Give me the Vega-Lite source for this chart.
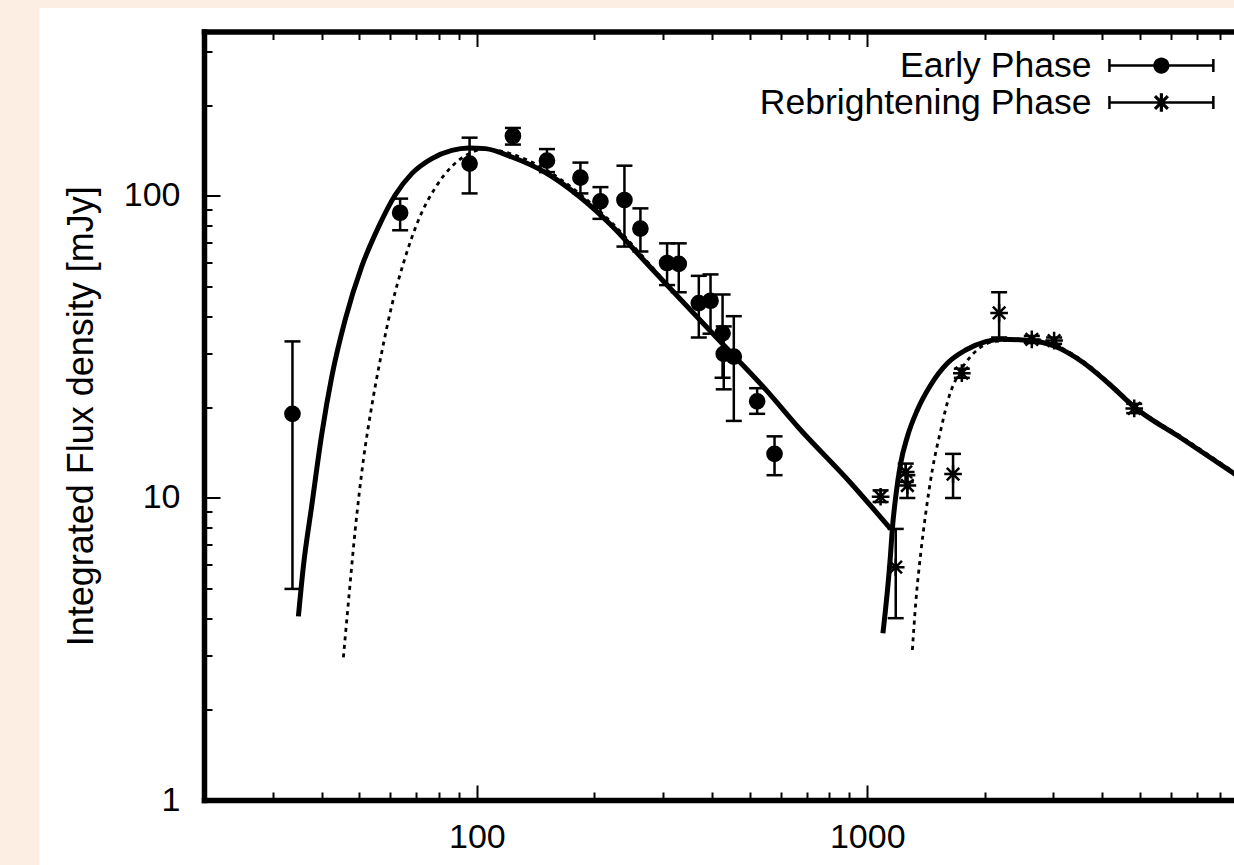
{
  "$schema": "https://vega.github.io/schema/vega-lite/v6.json",
  "width": 1030,
  "height": 768.5,
  "autosize": "none",
  "padding": {"left": 204, "top": 31.5, "right": 0, "bottom": 65},
  "background": "#fdeee4",
  "config": {
    "view": {"stroke": null},
    "font": "Liberation Sans",
    "axis": {
      "grid": false, "domainColor": "black", "tickColor": "black", "labelColor": "black", "titleColor": "black",
      "labelFont": "Liberation Sans", "titleFont": "Liberation Sans", "labelFontSize": 34, "titleFontSize": 36,
      "titleFontWeight": "normal", "domainWidth": 5.5, "domainCap": "square", "tickWidth": 2,
      "labelOverlap": false, "labelFlush": false, "labelBound": false
    }
  },
  "datasets": {
    "points": [
      {"phase": "Early Phase", "x": 33.7, "y": 19, "lo": 5, "hi": 33},
      {"phase": "Early Phase", "x": 63.6, "y": 88, "lo": 77, "hi": 98},
      {"phase": "Early Phase", "x": 95.8, "y": 128, "lo": 102, "hi": 156},
      {"phase": "Early Phase", "x": 123.7, "y": 158, "lo": 148, "hi": 168},
      {"phase": "Early Phase", "x": 151.2, "y": 131, "lo": 120, "hi": 143},
      {"phase": "Early Phase", "x": 184.2, "y": 115, "lo": 102, "hi": 129},
      {"phase": "Early Phase", "x": 207.3, "y": 96, "lo": 84, "hi": 107},
      {"phase": "Early Phase", "x": 238.8, "y": 97, "lo": 68, "hi": 126},
      {"phase": "Early Phase", "x": 262.4, "y": 78, "lo": 65.5, "hi": 91},
      {"phase": "Early Phase", "x": 307.1, "y": 60, "lo": 50.7, "hi": 69.7},
      {"phase": "Early Phase", "x": 329, "y": 59.6, "lo": 48, "hi": 69.7},
      {"phase": "Early Phase", "x": 370.3, "y": 44.2, "lo": 34, "hi": 54.4},
      {"phase": "Early Phase", "x": 396.8, "y": 45, "lo": 35, "hi": 55},
      {"phase": "Early Phase", "x": 426, "y": 35.1, "lo": 25, "hi": 47.2},
      {"phase": "Early Phase", "x": 429, "y": 30, "lo": 22.9, "hi": 37},
      {"phase": "Early Phase", "x": 455.2, "y": 29.4, "lo": 18, "hi": 40},
      {"phase": "Early Phase", "x": 522.4, "y": 20.9, "lo": 19, "hi": 23.1},
      {"phase": "Early Phase", "x": 578.8, "y": 14, "lo": 11.9, "hi": 16},
      {"phase": "Rebrightening Phase", "x": 1082, "y": 10.1, "lo": 9.7, "hi": 10.6},
      {"phase": "Rebrightening Phase", "x": 1183, "y": 5.9, "lo": 4.0, "hi": 7.9},
      {"phase": "Rebrightening Phase", "x": 1255, "y": 12.2, "lo": 11.3, "hi": 13.0},
      {"phase": "Rebrightening Phase", "x": 1267, "y": 11.0, "lo": 10.0, "hi": 11.9},
      {"phase": "Rebrightening Phase", "x": 1659, "y": 12.0, "lo": 10.0, "hi": 14.0},
      {"phase": "Rebrightening Phase", "x": 1747, "y": 25.9, "lo": 25.0, "hi": 26.8},
      {"phase": "Rebrightening Phase", "x": 2177, "y": 41, "lo": 34, "hi": 48},
      {"phase": "Rebrightening Phase", "x": 2640, "y": 33.5, "lo": 32.6, "hi": 34.4},
      {"phase": "Rebrightening Phase", "x": 3011, "y": 33.2, "lo": 32.4, "hi": 34.0},
      {"phase": "Rebrightening Phase", "x": 4830, "y": 19.8, "lo": 19.1, "hi": 20.5}
    ],
    "curves": [
      {"model": "A", "segment": "early", "x": 34.9, "y": 4.055},
      {"model": "A", "segment": "early", "x": 35.94, "y": 5.935},
      {"model": "A", "segment": "early", "x": 37.76, "y": 9.43},
      {"model": "A", "segment": "early", "x": 40.05, "y": 16.25},
      {"model": "A", "segment": "early", "x": 42.48, "y": 25.14},
      {"model": "A", "segment": "early", "x": 45.98, "y": 38.86},
      {"model": "A", "segment": "early", "x": 50.72, "y": 58.46},
      {"model": "A", "segment": "early", "x": 55.96, "y": 78.9},
      {"model": "A", "segment": "early", "x": 61.77, "y": 100.8},
      {"model": "A", "segment": "early", "x": 68.13, "y": 118.6},
      {"model": "A", "segment": "early", "x": 76.66, "y": 133.0},
      {"model": "A", "segment": "early", "x": 86.28, "y": 141.6},
      {"model": "A", "segment": "early", "x": 95.2, "y": 144.3},
      {"model": "A", "segment": "early", "x": 105.1, "y": 143.5},
      {"model": "A", "segment": "early", "x": 122.9, "y": 134.6},
      {"model": "A", "segment": "early", "x": 149.8, "y": 119.6},
      {"model": "A", "segment": "early", "x": 182.3, "y": 100.0},
      {"model": "A", "segment": "early", "x": 221.9, "y": 79.56},
      {"model": "A", "segment": "early", "x": 270.3, "y": 60.45},
      {"model": "A", "segment": "early", "x": 329.0, "y": 46.12},
      {"model": "A", "segment": "early", "x": 370.3, "y": 39.22},
      {"model": "A", "segment": "early", "x": 450.7, "y": 29.99},
      {"model": "A", "segment": "early", "x": 549, "y": 22.88},
      {"model": "A", "segment": "early", "x": 668.2, "y": 17.05},
      {"model": "A", "segment": "early", "x": 897.5, "y": 11.38},
      {"model": "A", "segment": "early", "x": 1148, "y": 7.9},
      {"model": "B", "segment": "early", "x": 45.51, "y": 2.964},
      {"model": "B", "segment": "early", "x": 46.88, "y": 4.525},
      {"model": "B", "segment": "early", "x": 48.77, "y": 7.79},
      {"model": "B", "segment": "early", "x": 51.23, "y": 13.43},
      {"model": "B", "segment": "early", "x": 53.81, "y": 20.2},
      {"model": "B", "segment": "early", "x": 57.07, "y": 30.4},
      {"model": "B", "segment": "early", "x": 60.54, "y": 43.35},
      {"model": "B", "segment": "early", "x": 64.88, "y": 60.04},
      {"model": "B", "segment": "early", "x": 70.88, "y": 83.3},
      {"model": "B", "segment": "early", "x": 78.22, "y": 106.4},
      {"model": "B", "segment": "early", "x": 86.28, "y": 125.3},
      {"model": "B", "segment": "early", "x": 93.4, "y": 136.0},
      {"model": "B", "segment": "early", "x": 105.1, "y": 143.0},
      {"model": "B", "segment": "early", "x": 122.9, "y": 137.7},
      {"model": "B", "segment": "early", "x": 149.8, "y": 122.4},
      {"model": "B", "segment": "early", "x": 182.3, "y": 102.3},
      {"model": "B", "segment": "early", "x": 221.9, "y": 81.4},
      {"model": "B", "segment": "early", "x": 270.3, "y": 61.6},
      {"model": "B", "segment": "early", "x": 329.0, "y": 46.12},
      {"model": "B", "segment": "early", "x": 370.3, "y": 39.22},
      {"model": "B", "segment": "early", "x": 450.7, "y": 29.99},
      {"model": "B", "segment": "early", "x": 549, "y": 22.88},
      {"model": "B", "segment": "early", "x": 668.2, "y": 17.05},
      {"model": "B", "segment": "early", "x": 897.5, "y": 11.38},
      {"model": "B", "segment": "early", "x": 1148, "y": 7.9},
      {"model": "A", "segment": "late", "x": 1097, "y": 3.565},
      {"model": "A", "segment": "late", "x": 1148, "y": 6.56},
      {"model": "A", "segment": "late", "x": 1159, "y": 7.83},
      {"model": "A", "segment": "late", "x": 1183, "y": 10.1},
      {"model": "A", "segment": "late", "x": 1218, "y": 13.03},
      {"model": "A", "segment": "late", "x": 1267, "y": 15.96},
      {"model": "A", "segment": "late", "x": 1344, "y": 19.56},
      {"model": "A", "segment": "late", "x": 1454, "y": 23.67},
      {"model": "A", "segment": "late", "x": 1604, "y": 27.93},
      {"model": "A", "segment": "late", "x": 1788, "y": 30.9},
      {"model": "A", "segment": "late", "x": 2012, "y": 32.93},
      {"model": "A", "segment": "late", "x": 2219, "y": 33.54},
      {"model": "A", "segment": "late", "x": 2598, "y": 33.22},
      {"model": "A", "segment": "late", "x": 3011, "y": 31.86},
      {"model": "A", "segment": "late", "x": 3558, "y": 28.2},
      {"model": "A", "segment": "late", "x": 4166, "y": 23.85},
      {"model": "A", "segment": "late", "x": 4830, "y": 20.01},
      {"model": "A", "segment": "late", "x": 6424, "y": 15.68},
      {"model": "A", "segment": "late", "x": 8978, "y": 11.73},
      {"model": "B", "segment": "late", "x": 1305, "y": 3.138},
      {"model": "B", "segment": "late", "x": 1331, "y": 4.48},
      {"model": "B", "segment": "late", "x": 1371, "y": 6.56},
      {"model": "B", "segment": "late", "x": 1412, "y": 8.9},
      {"model": "B", "segment": "late", "x": 1468, "y": 12.38},
      {"model": "B", "segment": "late", "x": 1543, "y": 16.8},
      {"model": "B", "segment": "late", "x": 1620, "y": 21.65},
      {"model": "B", "segment": "late", "x": 1719, "y": 25.87},
      {"model": "B", "segment": "late", "x": 1823, "y": 29.0},
      {"model": "B", "segment": "late", "x": 1934, "y": 31.3},
      {"model": "B", "segment": "late", "x": 2114, "y": 32.97},
      {"model": "B", "segment": "late", "x": 2598, "y": 33.5},
      {"model": "B", "segment": "late", "x": 3011, "y": 32.2},
      {"model": "B", "segment": "late", "x": 3558, "y": 28.5},
      {"model": "B", "segment": "late", "x": 4166, "y": 24.1},
      {"model": "B", "segment": "late", "x": 4830, "y": 20.2},
      {"model": "B", "segment": "late", "x": 6424, "y": 15.85},
      {"model": "B", "segment": "late", "x": 8978, "y": 11.85}
    ]
  },
  "resolve": {"axis": {"x": "independent", "y": "independent"}},
  "layer": [
    {
      "data": {"name": "curves"},
      "transform": [{"filter": "datum.model === 'A'"}],
      "mark": {"type": "line", "color": "black", "strokeWidth": 5, "interpolate": "monotone", "clip": true, "strokeJoin": "round"},
      "encoding": {
        "x": {"field": "x", "type": "quantitative", "scale": {"type": "log", "domain": [20, 8700], "nice": false},
          "axis": {
            "orient": "bottom", "title": null, "zindex": 2,
            "values": [20,30,40,50,60,70,80,90,100,200,300,400,500,600,700,800,900,1000,2000,3000,4000,5000,6000,7000,8000],
            "tickSize": {"condition": {"test": "datum.value == 100 || datum.value == 1000", "value": -15}, "value": -8},
            "labelExpr": "datum.value == 100 || datum.value == 1000 ? format(datum.value, 'd') : ''",
            "labelPadding": 35
          }},
        "y": {"field": "y", "type": "quantitative", "scale": {"type": "log", "domain": [1, 350.5], "nice": false},
          "axis": {
            "orient": "left", "zindex": 2,
            "values": [1,2,3,4,5,6,7,8,9,10,20,30,40,50,60,70,80,90,100,200,300],
            "tickSize": {"condition": {"test": "datum.value == 1 || datum.value == 10 || datum.value == 100", "value": -16}, "value": -8},
            "labelExpr": "datum.value == 1 || datum.value == 10 || datum.value == 100 ? format(datum.value, 'd') : ''",
            "labelPadding": 40,
            "title": "Integrated Flux density [mJy]",
            "titleAngle": 270, "titleX": -123, "titleY": 384.25, "titleAlign": "center", "titleBaseline": "middle"
          }},
        "detail": {"field": "segment"}
      }
    },
    {
      "data": {"name": "curves"},
      "transform": [{"filter": "datum.model === 'B'"}],
      "mark": {"type": "line", "color": "black", "strokeWidth": 2.8, "strokeDash": [4, 4.5], "interpolate": "monotone", "clip": true},
      "encoding": {
        "x": {"field": "x", "type": "quantitative", "scale": {"type": "log", "domain": [20, 8700], "nice": false}, "axis": null},
        "y": {"field": "y", "type": "quantitative", "scale": {"type": "log", "domain": [1, 350.5], "nice": false},
          "axis": {
            "orient": "right", "title": null, "labels": false, "domain": false, "zindex": 0,
            "values": [16.04], "tickSize": -1195, "tickWidth": 858, "tickColor": "white", "tickCap": "butt"
          }},
        "detail": {"field": "segment"}
      }
    },
    {
      "data": {"name": "points"},
      "mark": {"type": "rule", "color": "black", "strokeWidth": 2.5},
      "encoding": {
        "x": {"field": "x", "type": "quantitative", "scale": {"type": "log", "domain": [20, 8700], "nice": false},
          "axis": {
            "orient": "top", "title": null, "labels": false, "zindex": 2,
            "values": [20,30,40,50,60,70,80,90,100,200,300,400,500,600,700,800,900,1000,2000,3000,4000,5000,6000,7000,8000],
            "tickSize": {"condition": {"test": "datum.value == 100 || datum.value == 1000", "value": -15}, "value": -8}
          }},
        "y": {"field": "lo", "type": "quantitative", "scale": {"type": "log", "domain": [1, 350.5], "nice": false}, "axis": null},
        "y2": {"field": "hi"}
      }
    },
    {
      "data": {"name": "points"},
      "mark": {"type": "tick", "orient": "horizontal", "color": "black", "thickness": 2.5, "size": 16, "opacity": 1},
      "encoding": {
        "x": {"field": "x", "type": "quantitative", "scale": {"type": "log", "domain": [20, 8700], "nice": false}, "axis": null},
        "y": {"field": "lo", "type": "quantitative", "scale": {"type": "log", "domain": [1, 350.5], "nice": false}, "axis": null}
      }
    },
    {
      "data": {"name": "points"},
      "mark": {"type": "tick", "orient": "horizontal", "color": "black", "thickness": 2.5, "size": 16, "opacity": 1},
      "encoding": {
        "x": {"field": "x", "type": "quantitative", "scale": {"type": "log", "domain": [20, 8700], "nice": false}, "axis": null},
        "y": {"field": "hi", "type": "quantitative", "scale": {"type": "log", "domain": [1, 350.5], "nice": false}, "axis": null}
      }
    },
    {
      "data": {"name": "points"},
      "transform": [{"filter": "datum.phase === 'Early Phase'"}],
      "mark": {"type": "point", "shape": "circle", "filled": true, "color": "black", "stroke": "black", "strokeWidth": 2, "size": 216, "opacity": 1},
      "encoding": {
        "x": {"field": "x", "type": "quantitative", "scale": {"type": "log", "domain": [20, 8700], "nice": false}, "axis": null},
        "y": {"field": "y", "type": "quantitative", "scale": {"type": "log", "domain": [1, 350.5], "nice": false}, "axis": null}
      }
    },
    {
      "data": {"name": "points"},
      "transform": [{"filter": "datum.phase === 'Rebrightening Phase'"}],
      "mark": {"type": "point", "shape": "M-1.2,0H1.2M0,-1.2V1.2M-0.85,-0.85L0.85,0.85M-0.85,0.85L0.85,-0.85", "filled": false, "color": "black", "strokeWidth": 2.5, "size": 216, "opacity": 1},
      "encoding": {
        "x": {"field": "x", "type": "quantitative", "scale": {"type": "log", "domain": [20, 8700], "nice": false}, "axis": null},
        "y": {"field": "y", "type": "quantitative", "scale": {"type": "log", "domain": [1, 350.5], "nice": false}, "axis": null}
      }
    },
    {
      "data": {"name": "points"},
      "transform": [{"filter": "false"}],
      "mark": {"type": "point", "filled": true, "color": "black", "stroke": "black", "strokeWidth": 2.5, "size": 216, "opacity": 1},
      "encoding": {
        "x": {"field": "x", "type": "quantitative", "scale": {"type": "log", "domain": [20, 8700], "nice": false}, "axis": null},
        "y": {"field": "y", "type": "quantitative", "scale": {"type": "log", "domain": [1, 350.5], "nice": false}, "axis": null},
        "shape": {
          "field": "phase", "type": "nominal",
          "scale": {"domain": ["Early Phase", "Rebrightening Phase"], "range": [
            "M-7.07,-0.17H7.07V0.17H-7.07ZM-7.24,-0.88H-6.9V0.88H-7.24ZM6.9,-0.88H7.24V0.88H6.9ZM-1.1,0A1.1,1.1,0,1,1,1.1,0A1.1,1.1,0,1,1,-1.1,0Z",
            "M-7.07,-0.17H7.07V0.17H-7.07ZM-7.24,-0.88H-6.9V0.88H-7.24ZM6.9,-0.88H7.24V0.88H6.9ZM-0.22,-1.25H0.22V1.25H-0.22ZM-0.72,-1.03L1.03,0.72L0.72,1.03L-1.03,-0.72ZM-0.72,1.03L-1.03,0.72L0.72,-1.03L1.03,-0.72Z"
          ]},
          "legend": {
            "orient": "none", "legendX": 527.9, "legendY": 16.3, "zindex": 2,
            "title": null, "padding": 0, "offset": 0,
            "labelFont": "Liberation Sans", "labelFontSize": 35.5, "labelColor": "black",
            "labelAlign": "right", "labelBaseline": "middle", "labelOffset": -87.75, "labelLimit": 0,
            "symbolOffset": 411.75, "symbolSize": 216, "rowPadding": 0,
            "symbolFillColor": "black", "symbolStrokeColor": "black", "symbolStrokeWidth": 2.5, "symbolOpacity": 1,
            "encode": {
              "symbols": {
                "fill": {"value": "black"},
                "stroke": {"value": "black"},
                "strokeWidth": {"value": 2.5},
                "opacity": {"value": 1}
              }
            }
          }
        }
      }
    }
  ]
}
